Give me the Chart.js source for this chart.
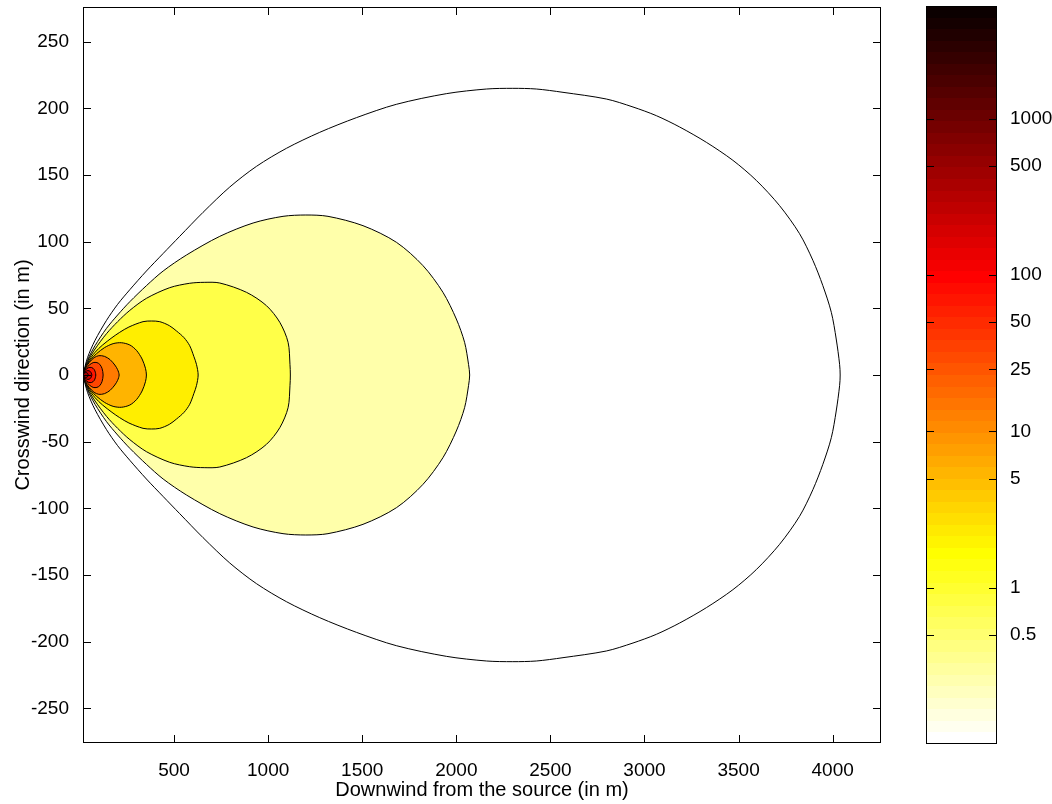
<!DOCTYPE html>
<html>
<head>
<meta charset="utf-8">
<script src="https://cdn.jsdelivr.net/npm/chart.js@4.4.1/dist/chart.umd.min.js"></script>
<style>
  html, body { margin: 0; padding: 0; background: #fff; }
  #wrap { position: relative; width: 1052px; height: 804px; }
  #plotBox { position: absolute; left: 0; top: 0; width: 900px; height: 804px; }
  #barBox { position: absolute; left: 900px; top: 0; width: 152px; height: 804px; }
</style>
</head>
<body>
<div id="wrap">
  <div id="plotBox"><canvas id="plumeChart"></canvas></div>
  <div id="barBox"><canvas id="colorBar"></canvas></div>
</div>
<script>
// concentration levels of the contours, outermost first, and their fill colours
const levels = [0.1, 0.5, 1, 5, 10, 25, 50, 100, 500, 1000];
const levelColors = ['#FFFFFF', '#FFFFAA', '#FFFF48', '#FFEE00', '#FFB400',
                     '#FF7A00', '#FF4500', '#FF1500', '#D00000', '#A00000'];

// half-width (crosswind, m) of each contour along the downwind distance (m)
const c01X = [16, 40, 80, 141, 200, 265, 353, 441, 530, 654, 796, 938, 1097, 1274, 1469, 1681, 1947, 2161, 2300,
              2425, 2567, 2797, 2939, 3063, 3187, 3329, 3470, 3594, 3718, 3824, 3895, 3948, 3993, 4019, 4037, 4040];
const c01Y = [0, 13, 26, 41, 53, 64, 78, 91, 104, 122, 141, 156.5, 170, 182, 193, 203, 211, 214.5, 215,
              214.5, 212, 207, 201, 194.5, 186, 174.5, 161, 146, 127, 106, 86, 67, 47, 27, 8, 0];
const c05X = [16, 40, 80, 141, 200, 265, 353, 442, 566, 743, 920, 1079, 1200, 1318, 1504, 1682, 1823, 1929,
              2000, 2044, 2065, 2071];
const c05Y = [0, 11, 22, 35, 45, 55, 67, 78, 90, 104, 114, 119, 120, 119, 112, 99.5, 82, 62,
              42, 24.5, 8, 0];
const c1X = [16, 40, 80, 141, 200, 265, 353, 477, 583, 660, 743, 885, 991, 1062, 1106, 1116, 1118];
const c1Y = [0, 10, 19.5, 31, 40, 48.5, 57.5, 65.5, 68.8, 69.5, 69, 62, 52, 39.5, 24.5, 8, 0];
const c5X = [16, 40, 80, 120, 170, 211, 260, 335, 380, 424, 475, 513, 553, 583, 605, 619, 628];
const c5Y = [0, 9, 17, 22.5, 28, 32, 36, 40, 40.5, 40, 37, 33, 28, 22, 14, 8, 0];
const c10X = [16, 35, 60, 88, 130, 176, 220, 265, 300, 330, 348, 353];
const c10Y = [0, 7, 12, 16, 20.5, 23.5, 24.2, 22.5, 18.5, 12, 5, 0];
const c25X = [16, 30, 50, 75, 100, 130, 160, 185, 200, 208];
const c25Y = [0, 5.5, 9.5, 13, 14.5, 14, 11.5, 7.5, 4, 0];
const c50X = [16, 30, 50, 70, 90, 105, 117, 123];
const c50Y = [0, 4.5, 7.5, 9.3, 9.3, 8, 5, 0];
const c100X = [16, 28, 45, 62, 76, 84];
const c100Y = [0, 3.5, 5.5, 5.6, 4, 0];
const c500X = [16, 28, 42, 55, 63];
const c500Y = [0, 2.5, 3.3, 2.6, 0];
const c1000X = [16, 24, 33, 40, 44];
const c1000Y = [0, 1.5, 1.9, 1.3, 0];

const xTicks = [500, 1000, 1500, 2000, 2500, 3000, 3500, 4000];
const yTicks = [-250, -200, -150, -100, -50, 0, 50, 100, 150, 200, 250];
const barTicks = [0.5, 1, 5, 10, 25, 50, 100, 500, 1000];
const cbMin = 0.1, cbMax = 5280;

Chart.defaults.font.family = '"Liberation Sans", Arial, sans-serif';
Chart.defaults.color = '#000';

const contours = [[c01X, c01Y], [c05X, c05Y], [c1X, c1Y], [c5X, c5Y], [c10X, c10Y],
                  [c25X, c25Y], [c50X, c50Y], [c100X, c100Y], [c500X, c500Y], [c1000X, c1000Y]];

// closed outline: upper half left to right, mirrored lower half back
const datasets = contours.map(([xs, hs], i) => {
    const upper = xs.map((x, k) => ({x: x, y: hs[k]}));
    const lower = xs.map((x, k) => ({x: x, y: -hs[k]})).reverse().slice(1);
    return {
        label: String(levels[i]),
        data: upper.concat(lower),
        showLine: true,
        fill: 'shape',
        backgroundColor: levelColors[i],
        borderColor: '#000',
        borderWidth: 1,
        pointRadius: 0,
        tension: 0.3,
        order: -i
    };
});

// box round the plot area and inward tick marks, MATLAB style
const axesBox = {
    id: 'axesBox',
    afterDraw(chart) {
        const {ctx, chartArea: a, scales} = chart;
        const len = 8;
        ctx.save();
        ctx.strokeStyle = '#000';
        ctx.lineWidth = 1;
        ctx.beginPath();
        Object.values(scales).forEach(s => {
            if (!s.options.display) return;
            s.ticks.forEach(t => {
                const p = Math.round(s.getPixelForValue(t.value)) + 0.5;
                if (s.isHorizontal()) {
                    ctx.moveTo(p, a.bottom); ctx.lineTo(p, a.bottom - len);
                    ctx.moveTo(p, a.top); ctx.lineTo(p, a.top + len);
                } else {
                    ctx.moveTo(a.left, p); ctx.lineTo(a.left + len, p);
                    ctx.moveTo(a.right, p); ctx.lineTo(a.right - len, p);
                }
            });
        });
        ctx.stroke();
        ctx.strokeRect(Math.round(a.left) + 0.5, Math.round(a.top) + 0.5,
                       Math.round(a.right - a.left) - 1, Math.round(a.bottom - a.top) - 1);
        ctx.restore();
    }
};

// keep the plot area where the reference puts it: no label overhang padding
function fixY(width) {
    return s => { s.width = width; s.paddingTop = 0; s.paddingBottom = 0; };
}

new Chart(document.getElementById('plumeChart'), {
    type: 'scatter',
    data: {datasets: datasets},
    options: {
        responsive: true,
        maintainAspectRatio: false,
        animation: false,
        layout: {padding: {top: 7, right: 19, left: 0, bottom: 0}},
        plugins: {legend: {display: false}, tooltip: {enabled: false}},
        scales: {
            x: {
                type: 'linear',
                min: 16,
                max: 4257,
                grid: {display: false},
                border: {display: false},
                afterBuildTicks: s => { s.ticks = xTicks.map(v => ({value: v})); },
                afterFit: s => { s.height = 61; s.paddingLeft = 0; s.paddingRight = 0; },
                ticks: {padding: 8, maxRotation: 0, font: {size: 19}, callback: v => String(v)},
                title: {display: true, text: 'Downwind from the source (in m)', font: {size: 20},
                        padding: {top: 0, bottom: 2}}
            },
            y: {
                type: 'linear',
                min: -276,
                max: 276,
                grid: {display: false},
                border: {display: false},
                afterBuildTicks: s => { s.ticks = yTicks.map(v => ({value: v})); },
                afterFit: fixY(83),
                ticks: {padding: 6, font: {size: 19}, callback: v => String(v)},
                title: {display: true, text: 'Crosswind direction (in m)', font: {size: 20},
                        padding: {top: 11, bottom: 0}}
            }
        }
    },
    plugins: [axesBox]
});

// MATLAB hot(64), flipped so the light end is at the bottom
function hotColor(i) {
    const r = Math.min(i / 24, 1);
    const g = Math.min(Math.max((i - 24) / 24, 0), 1);
    const b = Math.max((i - 48) / 16, 0);
    return 'rgb(' + Math.round(r * 255) + ',' + Math.round(g * 255) + ',' + Math.round(b * 255) + ')';
}

function barGradient(context) {
    const chart = context.chart;
    const a = chart.chartArea;
    if (!a) return '#fff';
    const g = chart.ctx.createLinearGradient(0, a.bottom, 0, a.top);
    for (let k = 0; k < 64; k++) {
        const c = hotColor(64 - k);
        g.addColorStop(k / 64, c);
        g.addColorStop((k + 1) / 64, c);
    }
    return g;
}

new Chart(document.getElementById('colorBar'), {
    type: 'bar',
    data: {
        labels: [''],
        datasets: [{
            data: [[cbMin, cbMax]],
            backgroundColor: barGradient,
            borderWidth: 0,
            barPercentage: 1,
            categoryPercentage: 1
        }]
    },
    options: {
        responsive: true,
        maintainAspectRatio: false,
        animation: false,
        layout: {padding: {left: 26, top: 6, bottom: 60, right: 0}},
        plugins: {legend: {display: false}, tooltip: {enabled: false}},
        scales: {
            x: {display: false},
            y: {
                type: 'logarithmic',
                position: 'right',
                min: cbMin,
                max: cbMax,
                grid: {display: false},
                border: {display: false},
                afterBuildTicks: s => { s.ticks = barTicks.map(v => ({value: v})); },
                afterFit: fixY(55),
                ticks: {padding: 5, font: {size: 19}, callback: v => String(v)}
            }
        }
    },
    plugins: [axesBox]
});
</script>
</body>
</html>
